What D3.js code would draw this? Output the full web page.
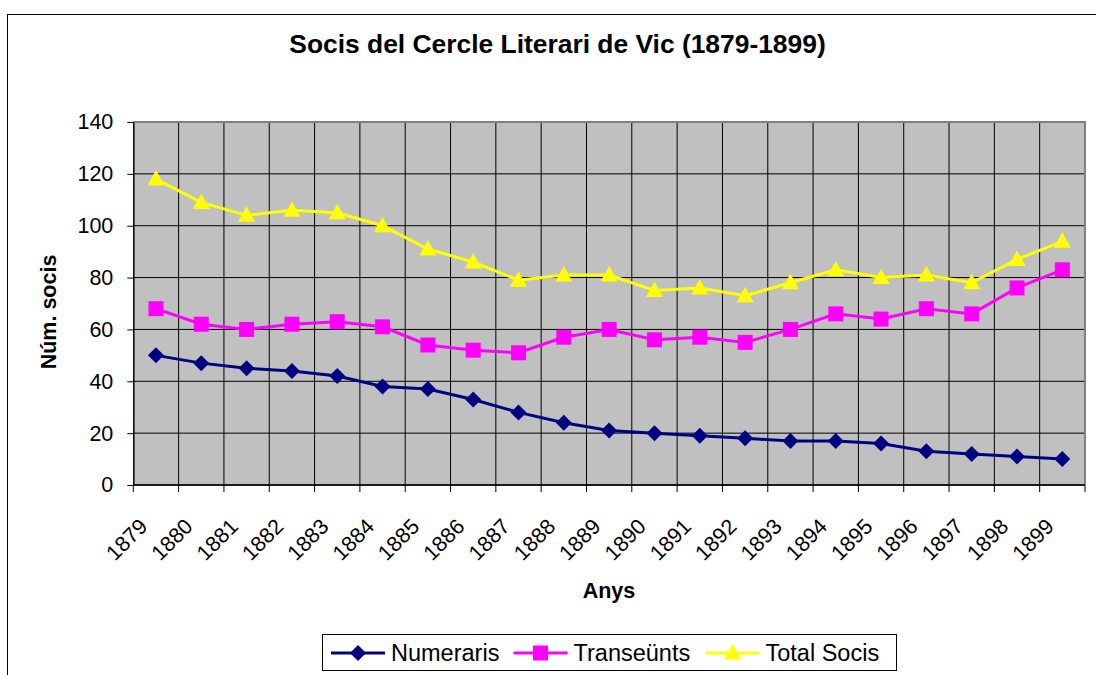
<!DOCTYPE html>
<html>
<head>
<meta charset="utf-8">
<script src="https://cdn.jsdelivr.net/npm/d3@7"></script>
<style>
  html, body { margin: 0; padding: 0; background: #fff; }
  svg { display: block; font-family: "Liberation Sans", Arial, sans-serif; }
</style>
</head>
<body>
<svg id="chart" width="1096" height="675"></svg>
<script>
const years = ["1879","1880","1881","1882","1883","1884","1885","1886","1887","1888","1889","1890","1891","1892","1893","1894","1895","1896","1897","1898","1899"];
const numeraris = [50,47,45,44,42,38,37,33,28,24,21,20,19,18,17,17,16,13,12,11,10];
const transeunts = [68,62,60,62,63,61,54,52,51,57,60,56,57,55,60,66,64,68,66,76,83];
const totalSocis = [118,109,104,106,105,100,91,86,79,81,81,75,76,73,78,83,80,81,78,87,94];
const yTicks = [0,20,40,60,80,100,120,140];
const seriesNames = ["Numeraris","Transeünts","Total Socis"];

const svg = d3.select("#chart");
const plot = {left: 133.3, right: 1085, top: 122, bottom: 485};

// outer chart border
svg.append("rect").attr("x", 7.5).attr("y", 14.5).attr("width", 1200).attr("height", 800)
  .attr("fill", "#fff").attr("stroke", "#000").attr("stroke-width", 1);

const x = d3.scaleBand().domain(years).range([plot.left, plot.right]).padding(0);
const y = d3.scaleLinear().domain([0, 140]).range([plot.bottom, plot.top]);
const cx = d => x(d) + x.bandwidth() / 2;

// plot background
svg.append("rect").attr("x", plot.left).attr("y", plot.top)
  .attr("width", plot.right - plot.left).attr("height", plot.bottom - plot.top)
  .attr("fill", "#C0C0C0");

// horizontal gridlines
svg.append("g").selectAll("line").data(yTicks).join("line")
  .attr("x1", plot.left).attr("x2", plot.right)
  .attr("y1", d => y(d)).attr("y2", d => y(d))
  .attr("stroke", "#000").attr("stroke-width", 1);

// vertical gridlines at band boundaries
const bounds = years.map(d => x(d)).concat([x.range()[1]]);
svg.append("g").selectAll("line").data(bounds.slice(1, -1)).join("line")
  .attr("x1", d => d).attr("x2", d => d)
  .attr("y1", plot.top).attr("y2", plot.bottom)
  .attr("stroke", "#000").attr("stroke-width", 1);

// plot border top/right (grey)
svg.append("path")
  .attr("d", `M${plot.left},${plot.top}H${plot.right}V${plot.bottom}`)
  .attr("fill", "none").attr("stroke", "#808080").attr("stroke-width", 2);

// y axis
const yAxis = svg.append("g").attr("transform", `translate(${plot.left},0)`)
  .call(d3.axisLeft(y).tickValues(yTicks).tickSize(6).tickPadding(14).tickSizeOuter(0));
yAxis.select(".domain").attr("stroke", "#000").attr("stroke-width", 1.5);
yAxis.selectAll(".tick line").attr("stroke", "#000");
yAxis.selectAll(".tick text").attr("font-size", "21.5px").attr("fill", "#000")
  .attr("font-family", "Liberation Sans, Arial, sans-serif");

// x axis line and ticks at boundaries
svg.append("line").attr("x1", plot.left).attr("x2", plot.right)
  .attr("y1", plot.bottom).attr("y2", plot.bottom)
  .attr("stroke", "#000").attr("stroke-width", 1.5);
svg.append("g").selectAll("line").data(bounds).join("line")
  .attr("x1", d => d).attr("x2", d => d)
  .attr("y1", plot.bottom).attr("y2", plot.bottom + 7)
  .attr("stroke", "#000").attr("stroke-width", 1);

// x labels rotated
svg.append("g").selectAll("text").data(years).join("text")
  .attr("transform", d => `translate(${cx(d) - 18},517) rotate(-45)`)
  .attr("text-anchor", "end").attr("dy", "0.71em")
  .attr("font-size", "21.5px").attr("fill", "#000")
  .text(d => d);

// titles
svg.append("text").attr("x", 557.5).attr("y", 53).attr("text-anchor", "middle")
  .attr("font-size", "26.4px").attr("font-weight", "bold").text("Socis del Cercle Literari de Vic (1879-1899)");
svg.append("text").attr("transform", "translate(56,312) rotate(-90)").attr("text-anchor", "middle")
  .attr("font-size", "21.5px").attr("font-weight", "bold").text("Núm. socis");
svg.append("text").attr("x", 609).attr("y", 598).attr("text-anchor", "middle")
  .attr("font-size", "21.5px").attr("font-weight", "bold").text("Anys");

// series
const series = [
  {name: seriesNames[0], values: numeraris, color: "#000080", sym: "diamond"},
  {name: seriesNames[1], values: transeunts, color: "#FF00FF", sym: "square"},
  {name: seriesNames[2], values: totalSocis, color: "#FFFF00", sym: "triangle"}
];
const line = d3.line().x((d, i) => cx(years[i])).y(d => y(d));

function marker(g, s) {
  if (s.sym === "diamond") {
    g.append("path").attr("d", "M0,-8L8,0L0,8L-8,0Z").attr("fill", s.color);
  } else if (s.sym === "square") {
    g.append("rect").attr("x", -7.5).attr("y", -7.5).attr("width", 15).attr("height", 15).attr("fill", s.color);
  } else {
    g.append("path").attr("d", "M0,-9L8.5,6.5L-8.5,6.5Z").attr("fill", s.color);
  }
}

series.forEach(s => {
  svg.append("path").datum(s.values).attr("d", line)
    .attr("fill", "none").attr("stroke", s.color).attr("stroke-width", 3);
  svg.append("g").selectAll("g").data(s.values).join("g")
    .attr("transform", (d, i) => `translate(${cx(years[i])},${y(d)})`)
    .each(function() { marker(d3.select(this), s); });
});

// legend
const lg = svg.append("g");
lg.append("rect").attr("x", 322.5).attr("y", 634.5).attr("width", 574).attr("height", 36)
  .attr("fill", "#fff").attr("stroke", "#000").attr("stroke-width", 1);
const legendX = [331, 513.5, 705.5];
series.forEach((s, i) => {
  const g = lg.append("g").attr("transform", `translate(${legendX[i]},653)`);
  g.append("line").attr("x1", 0).attr("x2", 54).attr("y1", 0).attr("y2", 0)
    .attr("stroke", s.color).attr("stroke-width", 3);
  marker(g.append("g").attr("transform", "translate(27,0)"), s);
  g.append("text").attr("x", 60).attr("y", 0).attr("dy", "0.35em")
    .attr("font-size", "23.5px").attr("fill", "#000").text(s.name);
});
</script>
</body>
</html>
